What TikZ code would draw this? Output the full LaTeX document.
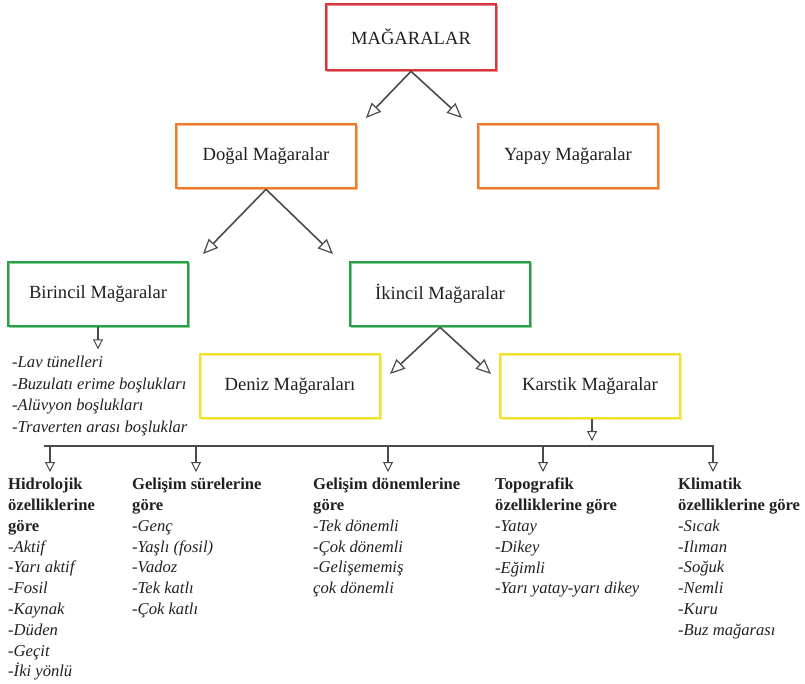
\documentclass[tikz,border=0pt]{standalone}
\usepackage{fontspec}
\setmainfont{Liberation Serif}
\usepackage{tikz}
\usetikzlibrary{arrows.meta,positioning,calc}
\definecolor{cavered}{HTML}{D8343A}
\definecolor{caveorange}{HTML}{F07B2A}
\definecolor{cavegreen}{HTML}{28A046}
\definecolor{caveyellow}{HTML}{F0E22C}
\definecolor{pencil}{HTML}{4A4A4A}
\definecolor{inkt}{HTML}{231F20}
\newcommand{\itm}[1]{\textit{-#1}}

\begin{document}
\begin{tikzpicture}[x=1pt,y=-1pt,
  cave/.style={draw=#1,line width=2.6pt,minimum width=180pt,minimum height=64pt,inner sep=0pt,
    text=inkt,font=\fontsize{18.6}{20}\selectfont,
    preaction={draw=#1!55,line width=1pt,transform canvas={shift={(1.5pt,-1.5pt)}}}},
  sketch/.style={draw=pencil,line width=1.6pt,-{Triangle[open,length=15pt,width=13pt,line width=1.2pt]}},
  tick/.style={draw=pencil,line width=1.4pt,-{Triangle[open,length=10pt,width=10pt,line width=1pt]}},
  list/.style={anchor=north west,align=left,inner sep=0pt,text=inkt,font=\fontsize{16.6}{20.8}\selectfont}]
  \useasboundingbox (0,0) rectangle (805,683);
  \node[cave=cavered,minimum width=170pt,minimum height=66pt] (mag) at (411,37) {MAĞARALAR};
  \node[cave=caveorange] (dogal) at (266,156) {Doğal Mağaralar};
  \node[cave=caveorange] (yapay) at (568,156) {Yapay Mağaralar};
  \node[cave=cavegreen] (birincil) at (98,294) {Birincil Mağaralar};
  \node[cave=cavegreen] (ikincil) at (440,294) {İkincil Mağaralar};
  \node[cave=caveyellow] (deniz) at (290,386) {Deniz Mağaraları};
  \node[cave=caveyellow] (karstik) at (590,386) {Karstik Mağaralar};
  \coordinate (m1) at (366,118);
  \coordinate (m2) at (462,118);
  \coordinate (g1) at (203,254);
  \coordinate (g2) at (333,254);
  \coordinate (k1) at (390,374);
  \coordinate (k2) at (491,374);
  \draw[sketch] (mag.south) -- (m1);
  \draw[sketch] (mag.south) -- (m2);
  \draw[sketch] (dogal.south) -- (g1);
  \draw[sketch] (dogal.south) -- (g2);
  \draw[sketch] (ikincil.south) -- (k1);
  \draw[sketch] (ikincil.south) -- (k2);
  \node[list,font=\fontsize{16.6}{21.5}\selectfont] (birlist) at (12,356)
    {\itm{Lav tünelleri}\\\itm{Buzulatı erime boşlukları}\\\itm{Alüvyon boşlukları}\\\itm{Traverten arası boşluklar}};
  \draw[tick] (birincil.south) -- ++(0,22);
  \coordinate (kd) at (592,441);
  \draw[tick] (karstik.south -| kd) -- (kd);
  \coordinate (bl) at (44,446);
  \coordinate (br) at (714,446);
  \draw[pencil,line width=1.3pt] (bl) -- (br);
  \node[list] (hidro) at (8,478)
    {\textbf{Hidrolojik}\\\textbf{özelliklerine}\\\textbf{göre}\\\itm{Aktif}\\\itm{Yarı aktif}\\\itm{Fosil}\\\itm{Kaynak}\\\itm{Düden}\\\itm{Geçit}\\\itm{İki yönlü}};
  \node[list] (sure) at (132,478)
    {\textbf{Gelişim sürelerine}\\\textbf{göre}\\\itm{Genç}\\\itm{Yaşlı (fosil)}\\\itm{Vadoz}\\\itm{Tek katlı}\\\itm{Çok katlı}};
  \node[list] (donem) at (313,478)
    {\textbf{Gelişim dönemlerine}\\\textbf{göre}\\\itm{Tek dönemli}\\\itm{Çok dönemli}\\\itm{Gelişememiş}\\\textit{çok dönemli}};
  \node[list] (topo) at (495,478)
    {\textbf{Topografik}\\\textbf{özelliklerine göre}\\\itm{Yatay}\\\itm{Dikey}\\\itm{Eğimli}\\\itm{Yarı yatay-yarı dikey}};
  \node[list] (klima) at (678,478)
    {\textbf{Klimatik}\\\textbf{özelliklerine göre}\\\itm{Sıcak}\\\itm{Ilıman}\\\itm{Soğuk}\\\itm{Nemli}\\\itm{Kuru}\\\itm{Buz mağarası}};
  \foreach \x/\col in {50/hidro,196/sure,388/donem,543/topo,713/klima}
    {\draw[tick,shorten >=6pt] (\x,446) -- (\x,446 |- \col.north);}
\end{tikzpicture}
\end{document}
